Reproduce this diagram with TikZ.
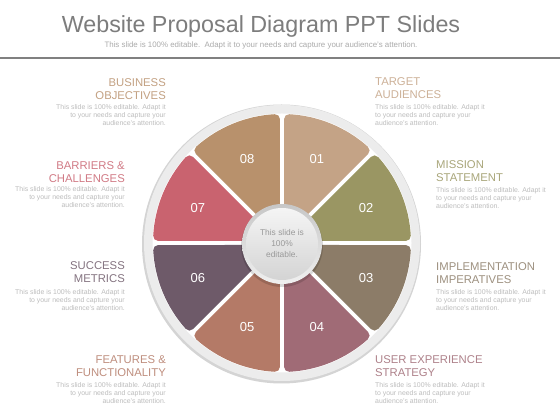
\documentclass[tikz,border=0pt]{standalone}
\usepackage{fontspec}
\setmainfont{Liberation Sans}
\definecolor{c01}{HTML}{C4A386}
\definecolor{c02}{HTML}{9A9663}
\definecolor{c03}{HTML}{8C7C68}
\definecolor{c04}{HTML}{A06B76}
\definecolor{c05}{HTML}{B47A67}
\definecolor{c06}{HTML}{6E5A69}
\definecolor{c07}{HTML}{C9636F}
\definecolor{c08}{HTML}{B8916C}
\definecolor{titlegray}{HTML}{7D7D7D}
\definecolor{subgray}{HTML}{ABABAB}
\definecolor{rulegray}{HTML}{808080}
\definecolor{descgray}{HTML}{BDBDBD}
\definecolor{ringgray}{HTML}{ECECEC}
\definecolor{ringshadow}{HTML}{D4D4D4}
\definecolor{centergray}{HTML}{999999}
\begin{document}
\begin{tikzpicture}[x=1pt,y=1pt,
  head/.style={inner sep=0pt, font=\fontsize{11.3}{13}\selectfont},
  descl/.style={inner sep=0pt, font=\fontsize{6.9}{8.3}\selectfont, text=descgray},
  num/.style={text=white, inner sep=0pt, font=\fontsize{13}{15}\selectfont},
  seg/.style={fill=#1, draw=#1, line width=10pt, line join=round}]
\useasboundingbox (0,0) rectangle (560,420);
\fill[white] (0,0) rectangle (560,420);
% title
\node[anchor=base, text=titlegray, font=\fontsize{23.3}{28}\selectfont, inner sep=0pt] (title) at (261,387) {Website Proposal Diagram PPT Slides};
\node[anchor=base, text=subgray, font=\fontsize{7.9}{9}\selectfont, inner sep=0pt] (sub) at (261,372) {This slide is 100\% editable.\ \ Adapt it to your needs and capture your audience's attention.};
\fill[rulegray] (0,361) rectangle (560,363);
% wheel
\begin{scope}[shift={(282,177)}]
  \fill[ringshadow] (-0.5,-1) circle[radius=139.5pt];
  \fill[ringgray] (0,0) circle[radius=138pt];
  \fill[white] (0,0) circle[radius=129.5pt];
  \foreach \a/\c in {45/c01, 0/c02, -45/c03, -90/c04, -135/c05, 180/c06, 135/c07, 90/c08}{
    \path[seg=\c] (\a+22.5:18.3pt) -- (\a+3.24:124pt) arc[start angle=\a+3.24, end angle=\a+41.76, radius=124pt] -- cycle;
  }
  \node[num] (n01) at (67.5:91pt) {01};
  \node[num] (n02) at (22.5:91pt) {02};
  \node[num] (n03) at (-22.5:91pt) {03};
  \node[num] (n04) at (-67.5:91pt) {04};
  \node[num] (n05) at (-112.5:91pt) {05};
  \node[num] (n06) at (-157.5:91pt) {06};
  \node[num] (n07) at (157.5:91pt) {07};
  \node[num] (n08) at (112.5:91pt) {08};
  % center
  \fill[black, opacity=0.15] (0,-3) circle[radius=41pt];
  \shade[top color=black!22, bottom color=black!6] (0,-1) circle[radius=40pt];
  \shade[top color=black!4, bottom color=black!17] (0,-1) circle[radius=36pt];
  \node[align=center, text=centergray, inner sep=0pt, font=\fontsize{8.4}{11}\selectfont] (ctext) at (0,-1) {This slide is\\100\%\\editable.};
\end{scope}
% left blocks
\node[head, anchor=north east, align=right, text=c08!85!white] (h8) at (166,342) {BUSINESS\\OBJECTIVES};
\node[descl, anchor=north east, align=right] (d8) at (166,316) {This slide is 100\% editable. Adapt it\\to your needs and capture your\\audience's attention.};
\node[head, anchor=north east, align=right, text=c07!85!white] (h7) at (125,259) {BARRIERS \&\\CHALLENGES};
\node[descl, anchor=north east, align=right] (d7) at (125,234) {This slide is 100\% editable. Adapt it\\to your needs and capture your\\audience's attention.};
\node[head, anchor=north east, align=right, text=c06!85!white] (h6) at (125,159) {SUCCESS\\METRICS};
\node[descl, anchor=north east, align=right] (d6) at (125,131) {This slide is 100\% editable. Adapt it\\to your needs and capture your\\audience's attention.};
\node[head, anchor=north east, align=right, text=c05!85!white] (h5) at (166,65) {FEATURES \&\\FUNCTIONALITY};
\node[descl, anchor=north east, align=right] (d5) at (166,38) {This slide is 100\% editable. Adapt it\\to your needs and capture your\\audience's attention.};
% right blocks
\node[head, anchor=north west, align=left, text=c01!85!white] (h1) at (375,343) {TARGET\\AUDIENCES};
\node[descl, anchor=north west, align=left] (d1) at (375,316) {This slide is 100\% editable. Adapt it\\to your needs and capture your\\audience's attention.};
\node[head, anchor=north west, align=left, text=c02!85!white] (h2) at (436,260) {MISSION\\STATEMENT};
\node[descl, anchor=north west, align=left] (d2) at (436,233) {This slide is 100\% editable. Adapt it\\to your needs and capture your\\audience's attention.};
\node[head, anchor=north west, align=left, text=c03!85!white] (h3) at (436,158) {IMPLEMENTATION\\IMPERATIVES};
\node[descl, anchor=north west, align=left] (d3) at (436,131) {This slide is 100\% editable. Adapt it\\to your needs and capture your\\audience's attention.};
\node[head, anchor=north west, align=left, text=c04!85!white] (h4) at (375,65) {USER EXPERIENCE\\STRATEGY};
\node[descl, anchor=north west, align=left] (d4) at (375,38) {This slide is 100\% editable. Adapt it\\to your needs and capture your\\audience's attention.};
\end{tikzpicture}
\end{document}
